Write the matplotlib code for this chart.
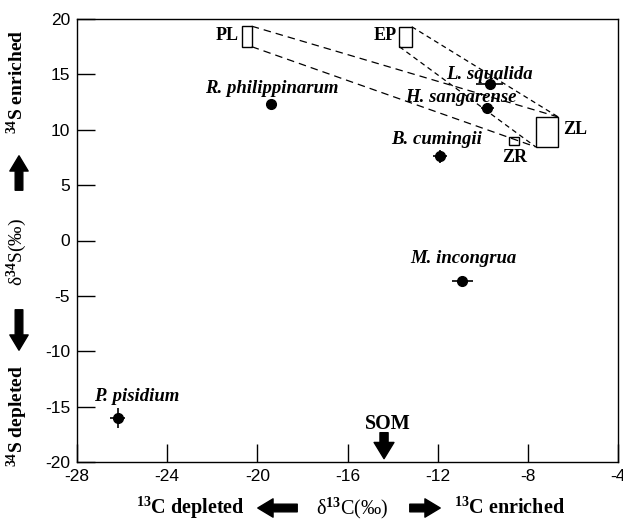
import numpy as np
import matplotlib
matplotlib.use("Agg")
import matplotlib.pyplot as plt

plt.rcParams["axes.unicode_minus"] = False
plt.rcParams["mathtext.fontset"] = "custom"
plt.rcParams["mathtext.rm"] = "Liberation Serif:bold"
plt.rcParams["mathtext.it"] = "Liberation Serif:italic:bold"
plt.rcParams["mathtext.bf"] = "Liberation Serif:bold"

# species means (d13C, d34S) and rough error bars
species = ["R. philippinarum", "L. squalida", "H. sangarense", "B. cumingii",
           "M. incongrua", "P. pisidium"]
d13c = [-19.4, -9.7, -9.8, -11.9, -10.9, -26.2]
d34s = [12.3, 14.1, 12.0, 7.6, -3.7, -16.0]
xerr = [0.1, 0.6, 0.3, 0.3, 0.45, 0.35]
yerr = [0.4, 0.2, 0.4, 0.6, 0.3, 0.9]
label_x = [-19.35, -9.7, -10.95, -12.05, -10.85, -25.35]
label_y = [13.7, 15.0, 12.9, 9.1, -1.6, -14.1]

# source boxes: name, x0, x1, y0, y1
sources = ["PL", "EP", "ZL", "ZR"]
src_x0 = [-20.7, -13.7, -7.65, -8.85]
src_x1 = [-20.25, -13.15, -6.65, -8.4]
src_y0 = [17.5, 17.5, 8.45, 8.6]
src_y1 = [19.35, 19.3, 11.15, 9.35]

som_x = -14.38

serif = "Liberation Serif"
sans = "Liberation Sans"

fig = plt.figure(figsize=(6.23, 5.2), dpi=100)
ax = fig.add_axes([0.1236, 0.1115, 0.8684, 0.852])
ax.set_xlim(-28, -4)
ax.set_ylim(-20, 20)
ax.set_xticks([-28, -24, -20, -16, -12, -8, -4])
ax.set_yticks([-20, -15, -10, -5, 0, 5, 10, 15, 20])
ax.tick_params(direction="in", length=13, width=1.0, labelsize=12.5, pad=5)
for lab in ax.get_xticklabels() + ax.get_yticklabels():
    lab.set_fontfamily(sans)
for s in ax.spines.values():
    s.set_linewidth(1.0)

# boxes
for name, x0, x1, y0, y1 in zip(sources, src_x0, src_x1, src_y0, src_y1):
    ax.add_patch(plt.Rectangle((x0, y0), x1 - x0, y1 - y0, fill=False,
                               ec="black", lw=1.0))

# dashed mixing lines PL->ZL, EP->ZL
dash = dict(color="black", lw=0.9, ls=(0, (6, 4)))
ax.plot([src_x1[0], src_x1[2]], [src_y1[0], src_y1[2]], **dash)
ax.plot([src_x1[0], src_x0[2]], [src_y0[0], src_y0[2]], **dash)
ax.plot([src_x1[1], src_x1[2]], [src_y1[1], src_y1[2]], color="black", lw=0.9, ls=(0, (4, 3)))
ax.plot([src_x0[1], src_x0[2]], [src_y0[1], src_y0[2]], color="black", lw=0.9, ls=(0, (4, 3)))

# species points
ax.errorbar(d13c, d34s, xerr=xerr, yerr=yerr, fmt="o", color="black",
            ms=7, elinewidth=1.2, capsize=0)
for name, lx, ly in zip(species, label_x, label_y):
    ax.text(lx, ly, name, ha="center", va="center", fontsize=13.5,
            fontfamily=serif, fontweight="bold", fontstyle="italic")

# source labels
skw = dict(fontsize=13, fontfamily=serif, fontweight="bold", va="center")
ax.text(-20.85, 18.5, "PL", ha="right", **skw)
ax.text(-13.8, 18.5, "EP", ha="right", **skw)
ax.text(-6.45, 10.0, "ZL", ha="left", **skw)
ax.text(-8.6, 7.5, "ZR", ha="center", **skw)

# SOM arrow
ax.text(som_x + 0.15, -16.6, "SOM", ha="center", fontsize=14.5,
        fontfamily=serif, fontweight="bold", va="center")
ax.annotate("", xy=(som_x, -19.95), xytext=(som_x, -17.1),
            arrowprops=dict(arrowstyle="simple,head_width=1.1,head_length=0.9,tail_width=0.45",
                            fc="black", ec="black", mutation_scale=13))

# axis labels with block arrows
def farrow(x0, y0, x1, y1):
    W, H = 623, 520
    fig.add_artist(matplotlib.patches.FancyArrowPatch(
        (x0 / W, 1 - y0 / H), (x1 / W, 1 - y1 / H), transform=fig.transFigure,
        arrowstyle="simple,head_width=1.2,head_length=1.0,tail_width=0.5",
        mutation_scale=11, fc="black", ec="black"))

tkw = dict(fontfamily=serif, fontweight="bold", fontsize=14, ha="center", va="center")
fig.text(17 / 623, 1 - 82 / 520, r"$^{34}$S enriched", rotation=90, **tkw)
fig.text(17 / 623, 1 - 252 / 520, r"δ$^{34}$S(‰)", rotation=90,
         fontfamily=serif, fontsize=14, ha="center", va="center")
fig.text(17 / 623, 1 - 416 / 520, r"$^{34}$S depleted", rotation=90, **tkw)
farrow(19, 193, 19, 153)
farrow(19, 307, 19, 353)

xkw = dict(tkw, fontsize=14.5)
fig.text(190 / 623, 1 - 508 / 520, r"$^{13}$C depleted", **xkw)
fig.text(352 / 623, 1 - 508 / 520, r"δ$^{13}$C(‰)", fontfamily=serif,
         fontsize=14.5, ha="center", va="center")
fig.text(510 / 623, 1 - 508 / 520, r"$^{13}$C enriched", **xkw)
farrow(300, 508, 255, 508)
farrow(407, 508, 443, 508)

fig.savefig("out.png", dpi=100)
